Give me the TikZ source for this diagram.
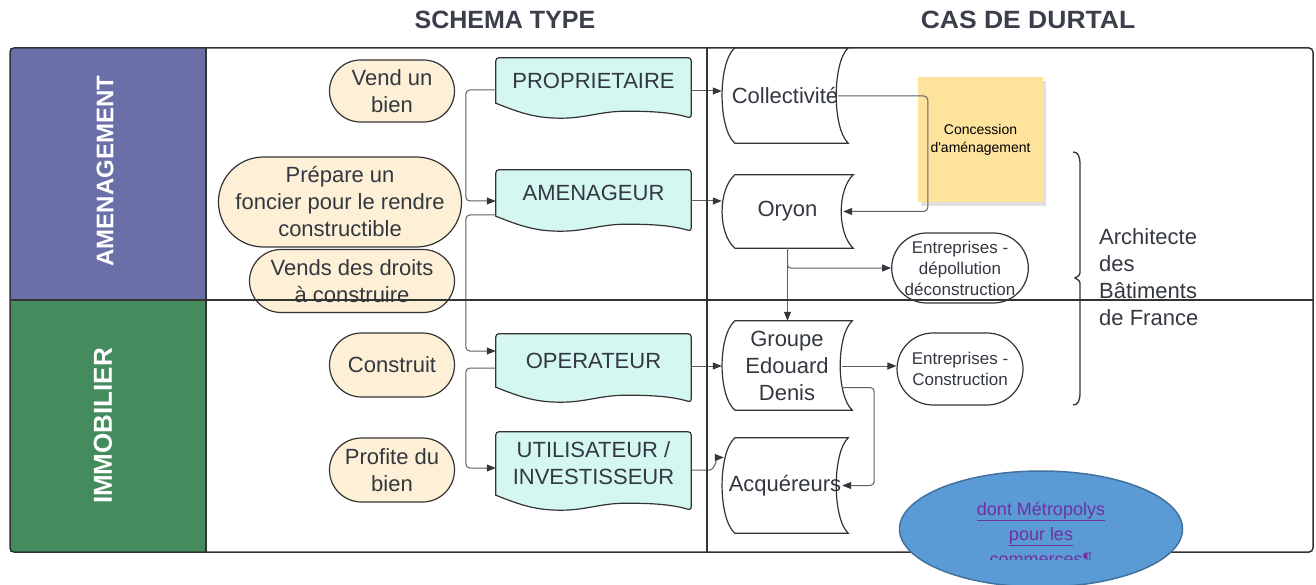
\documentclass[tikz,border=0pt]{standalone}
\usepackage{fontspec}
\setmainfont{Liberation Sans}
\usetikzlibrary{positioning,calc,arrows.meta,shapes.misc,shapes.geometric}
\definecolor{lanepurple}{HTML}{6A6FA8}
\definecolor{lanegreen}{HTML}{448B5E}
\definecolor{cream}{HTML}{FDF0D7}
\definecolor{cyanfill}{HTML}{D4F7F2}
\definecolor{stickyfill}{HTML}{FDE39C}
\definecolor{bluefill}{HTML}{5B9BD5}
\definecolor{blueline}{HTML}{41719C}
\definecolor{linkpurple}{HTML}{7030A0}
\definecolor{ink}{HTML}{333840}
\definecolor{edge}{HTML}{333333}
\definecolor{linkgrey}{HTML}{606060}
\definecolor{headgrey}{HTML}{3A3F4A}
\pgfdeclarelayer{back}
\pgfsetlayers{back,main}

\begin{document}
\begin{tikzpicture}[x=1pt,y=-1pt,
    txt/.style={font=\fontsize{22}{27}\selectfont, text=ink, align=center, inner sep=0pt},
    task/.style={txt, rounded rectangle, draw=edge, line width=1.2pt, fill=cream},
    doc/.style={txt, rectangle, minimum width=195},
    docshape/.style={draw=edge, line width=1.2pt, fill=cyanfill},
    store/.style={txt, rectangle},
    storeshape/.style={draw=edge, line width=1.2pt},
    firm/.style={rounded rectangle, draw=edge, line width=1.2pt, text=ink, align=center,
        inner sep=0pt, minimum width=126, font=\fontsize{17}{21}\selectfont},
    link/.style={draw=linkgrey, line width=1pt, -{Triangle[length=9pt,width=7pt,color=ink]}},
    frameline/.style={draw=edge, line width=1.5pt},
    lanetitle/.style={font=\fontsize{24}{28}\selectfont\bfseries, text=white, rotate=90},
    heading/.style={font=\fontsize{25}{30}\selectfont\bfseries, text=headgrey}]
    \useasboundingbox (0,0) rectangle (1316,585);

    % titles
    \node[heading] (schema) at (505,20) {SCHEMA TYPE};
    \node[heading, xscale=1.06] (durtal) at (1028,20) {CAS DE DURTAL};

    % lanes
    \fill[lanepurple] (10,48) rectangle (206,300);
    \fill[lanegreen] (10,300) rectangle (206,552);
    \node[lanetitle] (lane1) at (105,171) {AMENAGEMENT};
    \node[lanetitle, font=\fontsize{26}{30}\selectfont\bfseries] (lane2) at (103,426) {IMMOBILIER};

    % schema type
    \node[task, minimum width=125, minimum height=62] (vend) at (392,91) {Vend un\\bien};
    \node[task, minimum width=230, minimum height=90] (prepare) at (340,202) {Prépare un\\foncier pour le rendre\\constructible};
    \node[task, minimum width=205, minimum height=63] (droits) at (352,281) {Vends des droits\\à construire};
    \node[task, minimum width=125, minimum height=64] (construit) at (392,365) {Construit};
    \node[task, minimum width=125, minimum height=64] (profite) at (392,470) {Profite du\\bien};

    \node[doc, minimum height=45] (prop) at (593.5,80.5) {PROPRIETAIRE};
    \node[doc, minimum height=46] (amen) at (593.5,193) {AMENAGEUR};
    \node[doc, minimum height=53] (oper) at (593.5,360.5) {OPERATEUR};
    \node[doc, minimum height=63] (util) at (593.5,463.5) {UTILISATEUR /\\INVESTISSEUR};

    \begin{pgfonlayer}{back}
    \foreach \d in {prop,amen,oper,util}
        \path[docshape] ($(\d.south east)+(0,15)$) .. controls +(-20,-6) and +(25,0) .. ($(\d.south west)+(130,8)$)
            .. controls +(-25,0) and +(25,0) .. ($(\d.south west)+(65,15)$)
            .. controls +(-25,0) and +(25,10) .. (\d.south west)
            [rounded corners=3] -- (\d.north west) -- (\d.north east) -- cycle;
    \end{pgfonlayer}

    \draw[link, rounded corners=4] ($(prop.west)+(0,9.5)$) -- ++(-30,0) |- ($(amen.west)+(0,8)$);
    \draw[link, rounded corners=4] ($(amen.west)+(0,22)$) -- ++(-30,0) |- ($(oper.west)+(0,-9.5)$);
    \draw[link, rounded corners=4] ($(oper.west)+(0,7.5)$) -- ++(-30,0) |- ($(util.west)+(0,4.5)$);

    % cas de durtal
    \node[fill=stickyfill, minimum width=125, minimum height=125, inner sep=0pt, align=center,
        font=\fontsize{14}{18}\selectfont] (note) at (980.5,139.5)
        {Concession\\d\textquotesingle aménagement};
    \begin{pgfonlayer}{back}
    \fill[black, opacity=0.12] ($(note.north west)+(3,4)$) rectangle ($(note.south east)+(3,4)$);
    \end{pgfonlayer}

    \node[store, minimum width=126, minimum height=95] (coll) at (785,95.5) {Collectivité};
    \node[store, minimum width=131, minimum height=73] (oryon) at (787.5,211.5) {Oryon};
    \node[store, minimum width=130, minimum height=89] (ged) at (787,365.5) {Groupe\\Edouard\\Denis};
    \node[store, minimum width=126, minimum height=95] (acq) at (785,485.5) {Acquéreurs};
    \foreach \s in {coll,oryon,ged,acq}
        \draw[storeshape] ($(\s.north west)+(13,0)$) -- (\s.north east)
            .. controls +(-16,15) and +(-16,-15) .. (\s.south east)
            -- ($(\s.south west)+(13,0)$)
            .. controls +(-17,-15) and +(-17,15) .. ($(\s.north west)+(13,0)$) -- cycle;

    \node[firm, minimum height=70] (depol) at (960,268) {Entreprises -\\dépollution\\déconstruction};
    \node[firm, minimum height=72] (constr) at (960,369) {Entreprises -\\Construction};

    \draw[link] ($(prop.east)+(0,10.5)$) coordinate (p1) -- (p1 -| coll.west);
    \draw[link] ($(amen.east)+(0,8)$) coordinate (p2) -- (p2 -| oryon.west);
    \draw[link] ($(oper.east)+(0,5.5)$) coordinate (p3) -- (p3 -| ged.west);
    \draw[link] ($(util.east)+(0,6.5)$) -- ++(18,0) .. controls +(6,0) and +(-6,0) .. ($(acq.west)+(2,-28)$);

    \draw[link, rounded corners=4] ($(coll.east)+(-10,0.5)$) -| ($(note.west)+(10,0)$) |- ($(oryon.east)+(-10,0)$);
    \draw[link, rounded corners=3] (oryon.south) |- (depol.west);
    \draw[link] (oryon.south) -- (oryon.south |- ged.north);
    \draw[link] ($(ged.east)+(-10,0.5)$) coordinate (p4) -- (p4 -| constr.west);
    \draw[link, rounded corners=4] ($(ged.east)+(-10,22)$) -| ($(acq.east)+(26,0)$) |- ($(acq.east)+(-6,0)$);

    % architecte
    \draw[storeshape, line width=1.3pt] (1073,152) .. controls (1078,152) and (1080,156) .. (1080,165) -- (1080,270)
        .. controls (1080,275) .. (1075,278) .. controls (1080,281) .. (1080,286) -- (1080,392)
        .. controls (1080,401) and (1078,405) .. (1073,405);
    \node[txt, align=left, anchor=west] (abf) at (1099,277) {Architecte\\des\\Bâtiments\\de France};

    % frame
    \draw[frameline, rounded corners=4] (10,48) rectangle (1313,552);
    \draw[frameline] (10,300) -- (1313,300);
    \draw[frameline] (206,48) -- (206,552);
    \draw[frameline] (707,48) -- (707,552);

    % metropolys
    \node[ellipse, fill=bluefill, draw=blueline, line width=1.5pt, minimum width=283, minimum height=116] (metro) at (1041,529) {};
    \begin{scope}
        \clip (890,470) rectangle (1200,559);
        \node[font=\fontsize{18}{25}\selectfont, text=linkpurple, align=center, inner sep=0pt] (metrotxt) at (1041,536)
            {\underline{dont Métropolys}\\\underline{pour les}\\\underline{commerces¶}};
    \end{scope}
\end{tikzpicture}
\end{document}
